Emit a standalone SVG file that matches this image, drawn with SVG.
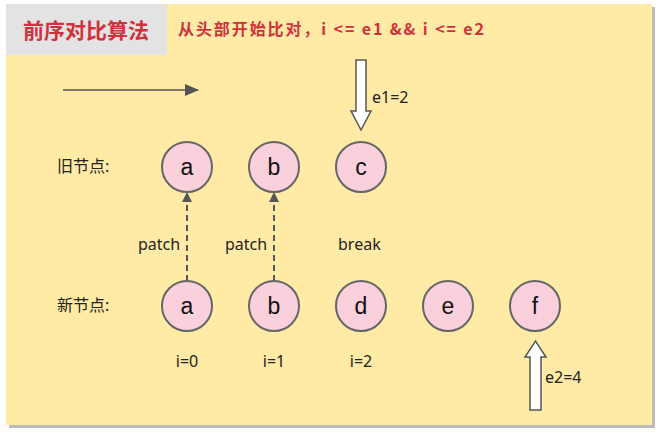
<svg xmlns="http://www.w3.org/2000/svg" width="659" height="433" viewBox="0 0 659 433">
<style>
.n circle{fill:#f9d0dc;stroke:#666;stroke-width:2}
.n text{font-family:"Liberation Sans","Open Sans",sans-serif;font-size:23px;fill:#111;text-anchor:middle}
.t{font-family:"Noto Sans","Noto Sans CJK SC",sans-serif;font-size:16px;fill:#222}
.big{fill:#fff;stroke:#555;stroke-width:1.5}
</style>
<defs>
<marker id="ah" markerWidth="10" markerHeight="10" refX="9" refY="5" orient="auto" markerUnits="userSpaceOnUse"><path d="M0,0 L10,5 L0,10 z" fill="#555"/></marker>
<marker id="ah2" markerWidth="14" markerHeight="14" refX="13" refY="7" orient="auto" markerUnits="userSpaceOnUse"><path d="M0,1 L14,7 L0,13 z" fill="#555"/></marker>
</defs>
<rect width="659" height="433" fill="#fff"/>
<rect x="9" y="7" width="646" height="421" fill="#bbb"/>
<rect x="6" y="4" width="646" height="421" fill="#ffeaa6"/>
<rect x="6" y="4" width="161" height="51" fill="#e3e3e3"/>
<text x="86" y="38" font-family="Noto Sans CJK SC,sans-serif" font-size="21" font-weight="bold" fill="#d0323c" text-anchor="middle">前序对比算法</text>
<text x="178" y="35" font-family="Noto Sans CJK SC,sans-serif" font-size="16" font-weight="bold" fill="#d0323c" textLength="306">从头部开始比对，i &lt;= e1 &amp;&amp; i &lt;= e2</text>
<g id="connectors">
<line x1="63" y1="90" x2="198" y2="90" stroke="#555" stroke-width="1.5" marker-end="url(#ah2)"/>
<line x1="187" y1="281" x2="187" y2="193" stroke="#555" stroke-width="2" stroke-dasharray="6,4" marker-end="url(#ah)"/>
<line x1="274" y1="281" x2="274" y2="193" stroke="#555" stroke-width="2" stroke-dasharray="6,4" marker-end="url(#ah)"/>
<path class="big" d="M356,60 H366 V111 H371 L361,130 L351,111 H356 Z"/>
<path class="big" d="M530,410 H541 V357 H546 L535.5,341 L525,357 H530 Z"/>
</g>
<text class="t" x="372" y="103">e1=2</text>
<text class="t" x="545" y="383">e2=4</text>
<text class="t" x="57" y="172">旧节点:</text>
<text class="t" x="57" y="311">新节点:</text>
<text class="t" x="138" y="250">patch</text>
<text class="t" x="225" y="250">patch</text>
<text class="t" x="338" y="250">break</text>
<text class="t" x="187" y="367" text-anchor="middle">i=0</text>
<text class="t" x="274" y="367" text-anchor="middle">i=1</text>
<text class="t" x="361" y="367" text-anchor="middle">i=2</text>
<g id="oa" class="n"><circle cx="187" cy="167" r="25"/><text x="187" y="175">a</text></g>
<g id="ob" class="n"><circle cx="274" cy="167" r="25"/><text x="274" y="175">b</text></g>
<g id="oc" class="n"><circle cx="361" cy="167" r="25"/><text x="361" y="175">c</text></g>
<g id="na" class="n"><circle cx="187" cy="306" r="25"/><text x="187" y="314">a</text></g>
<g id="nb" class="n"><circle cx="274" cy="306" r="25"/><text x="274" y="314">b</text></g>
<g id="nd" class="n"><circle cx="361" cy="306" r="25"/><text x="361" y="314">d</text></g>
<g id="ne" class="n"><circle cx="448" cy="306" r="25"/><text x="448" y="314">e</text></g>
<g id="nf" class="n"><circle cx="535" cy="306" r="25"/><text x="535" y="314">f</text></g>
</svg>
